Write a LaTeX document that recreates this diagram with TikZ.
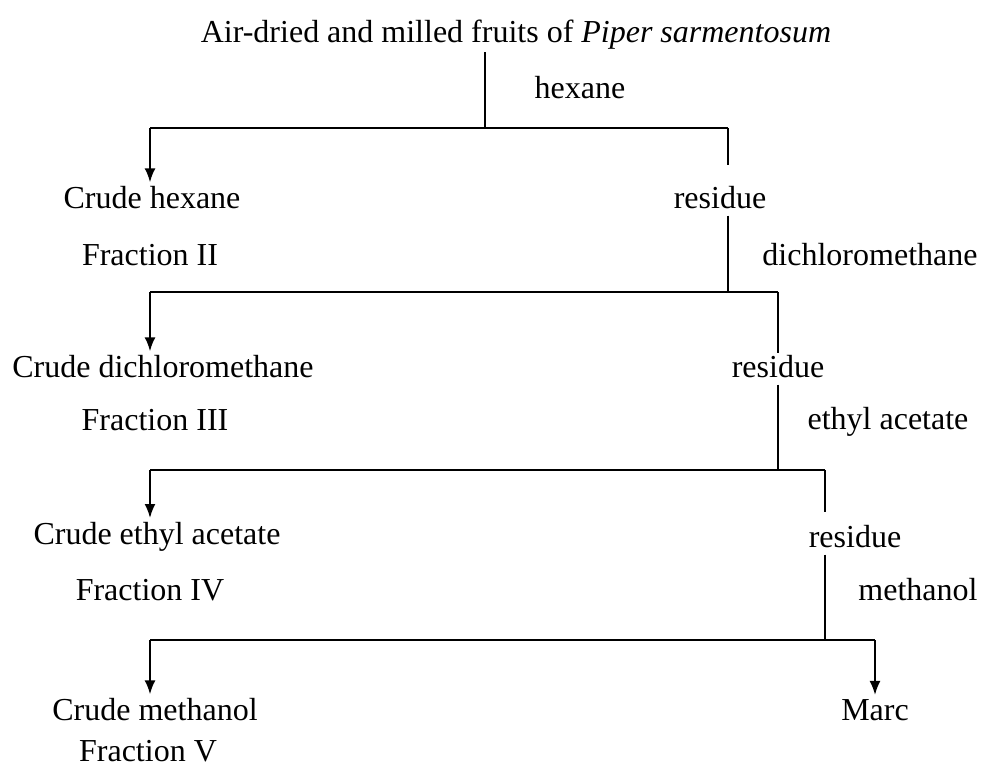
\documentclass[tikz,border=0pt]{standalone}
\usepackage{fontspec}
\setmainfont{Liberation Serif}
\usetikzlibrary{arrows.meta,positioning}
\tikzset{
  txt/.style={inner sep=1pt,font=\fontsize{16}{18}\selectfont},
  flow/.style={line width=1pt},
  down/.style={flow,-{Latex[length=7pt,width=5.5pt]},shorten >=1pt}
}

\begin{document}
\begin{tikzpicture}[x=0.5pt,y=-0.5pt]
 \useasboundingbox (0,0) rectangle (984,769);
 % stages
 \node[txt] (raw) at (516,35) {Air-dried and milled fruits of \textit{Piper sarmentosum}};
 \node[txt] (sHex) at (580,88) {hexane};
 \node[txt] (cHex) at (152,198) {Crude hexane};
 \node[txt] (res1) at (720,198) {residue};
 \node[txt] (f2) at (150,255) {Fraction II};
 \node[txt] (sDcm) at (870,255) {dichloromethane};
 \node[txt] (cDcm) at (163,367) {Crude dichloromethane};
 \node[txt] (res2) at (778,367) {residue};
 \node[txt] (f3) at (155,420) {Fraction III};
 \node[txt] (sEa) at (888,422) {ethyl acetate};
 \node[txt] (cEa) at (157,537) {Crude ethyl acetate};
 \node[txt] (res3) at (855,537) {residue};
 \node[txt] (f4) at (150,590) {Fraction IV};
 \node[txt] (sMeoh) at (918,590) {methanol};
 \node[txt] (cMeoh) at (155,710) {Crude methanol};
 \node[txt] (marc) at (875,710) {Marc};
 \node[txt,inner sep=0pt] (f5) at (148,751) {Fraction V};
 % branch points
 \coordinate (j1) at (485,128);
 \coordinate (j1l) at (150,128);
 \coordinate (j1r) at (728,128);
 \coordinate (j2) at (728,292);
 \coordinate (j2l) at (150,292);
 \coordinate (j2r) at (778,292);
 \coordinate (j3) at (778,470);
 \coordinate (j3l) at (150,470);
 \coordinate (j3r) at (825,470);
 \coordinate (j4) at (825,640);
 \coordinate (j4l) at (150,640);
 \coordinate (j4r) at (875,640);
 % hexane
 \draw[flow] (raw.south -| j1) -- (j1);
 \draw[flow] (j1l) -- (j1r);
 \draw[down] (j1l) -- (j1l |- cHex.north);
 \draw[flow] (j1r) -- ++(0,37);
 % dichloromethane
 \draw[flow] (res1.south -| j2) ++(0,4) -- (j2);
 \draw[flow] (j2l) -- (j2r);
 \draw[down] (j2l) -- (j2l |- cDcm.north);
 \draw[flow] (j2r) -- (res2.north -| j2r);
 % ethyl acetate
 \draw[flow] (res2.south -| j3) ++(0,4) -- (j3);
 \draw[flow] (j3l) -- (j3r);
 \draw[down] (j3l) -- (j3l |- cEa.north);
 \draw[flow] (j3r) -- ++(0,42);
 % methanol
 \draw[flow] (res3.south -| j4) ++(0,4) -- (j4);
 \draw[flow] (j4l) -- (j4r);
 \draw[down] (j4l) -- (j4l |- cMeoh.north);
 \draw[down] (j4r) -- (marc.north);
\end{tikzpicture}
\end{document}
